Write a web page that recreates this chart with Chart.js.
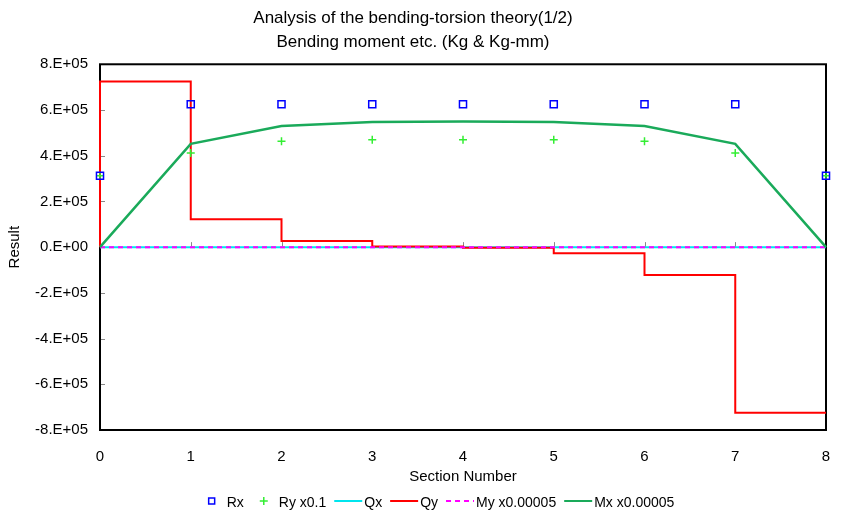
<!DOCTYPE html>
<html>
<head>
<meta charset="utf-8">
<script src="https://cdn.jsdelivr.net/npm/chart.js@4/dist/chart.umd.min.js"></script>
<style>
  html, body { margin: 0; padding: 0; background: #fff; }
</style>
</head>
<body>
<canvas id="bending" width="841" height="519"></canvas>
<script>
// section positions along the beam
let sections = [0, 1, 2, 3, 4, 5, 6, 7, 8];
// reactions
let rx = [312000, 625000, 625000, 625000, 625000, 625000, 625000, 625000, 312000];
let ryScaled = [312000, 412000, 463000, 470000, 470000, 470000, 463000, 412000, 312000];
// shear forces
let qx = [0, 0, 0, 0, 0, 0, 0, 0, 0];
let qySections = [0, 0, 1, 2, 3, 4, 5, 6, 7, 8];
let qy = [0, 725000, 122000, 27000, 3000, -3000, -27000, -122000, -725000, -725000];
// bending moments (scaled)
let myScaled = [0, 0, 0, 0, 0, 0, 0, 0, 0];
let mxScaled = [0, 452000, 530000, 547000, 550000, 547000, 530000, 452000, 0];

let yTicks = [-800000, -600000, -400000, -200000, 0, 200000, 400000, 600000, 800000];

const pts = (xs, ys) => xs.map((x, i) => ({x: x, y: ys[i]}));

const FONT = "'Liberation Sans', Arial, sans-serif";

function sciLabel(v) {
  if (v === 0) return "0.E+00";
  let m = Math.round(Math.abs(v) / 100000);
  return (v < 0 ? "-" : "") + m + ".E+05";
}

// plot frame plus the short inward tick marks
const frame = {
  id: "frame",
  beforeDatasetsDraw(chart) {
    const {ctx, chartArea: a, scales} = chart;
    ctx.save();
    ctx.strokeStyle = "#888";
    ctx.lineWidth = 1;
    yTicks.forEach(v => {
      const y = Math.round(scales.y.getPixelForValue(v)) + 0.5;
      ctx.beginPath(); ctx.moveTo(a.left, y); ctx.lineTo(a.left + 5, y); ctx.stroke();
    });
    const y0 = scales.y.getPixelForValue(0);
    sections.slice(1, -1).forEach(s => {
      const x = Math.round(scales.x.getPixelForValue(s)) + 0.5;
      ctx.beginPath(); ctx.moveTo(x, y0 - 5); ctx.lineTo(x, y0); ctx.stroke();
    });
    ctx.strokeStyle = "#000";
    ctx.lineWidth = 2;
    ctx.strokeRect(a.left, a.top, a.right - a.left, a.bottom - a.top);
    ctx.restore();
  }
};

// legend row under the axis
const bottomLegend = {
  id: "bottomLegend",
  afterDraw(chart) {
    const {ctx} = chart;
    const y = 503;
    ctx.save();
    ctx.font = "14px " + FONT;
    ctx.textBaseline = "middle";
    const items = chart.data.datasets.map(ds => {
      const isPoint = ds.showLine === false;
      const tw = ctx.measureText(ds.label).width;
      return {ds, isPoint, tw, w: (isPoint ? 27 : 30) + tw};
    });
    const gap = 8;
    const total = items.reduce((s, it) => s + it.w, 0) + gap * (items.length - 1);
    let x = 437 - total / 2;
    items.forEach(it => {
      const ds = it.ds;
      if (it.isPoint) {
        const cx = x + 12, cy = y - 2;
        ctx.strokeStyle = ds.borderColor;
        ctx.lineWidth = 1.5;
        ctx.beginPath();
        if (ds.pointStyle === "rect") {
          ctx.rect(cx - 3, cy - 3, 6, 6);
        } else {
          ctx.moveTo(cx - 4, cy); ctx.lineTo(cx + 4, cy);
          ctx.moveTo(cx, cy - 4); ctx.lineTo(cx, cy + 4);
        }
        ctx.stroke();
        ctx.fillStyle = "#000";
        ctx.fillText(ds.label, x + 27, y);
      } else {
        ctx.strokeStyle = ds.borderColor;
        ctx.lineWidth = 2;
        ctx.setLineDash(ds.borderDash || []);
        ctx.beginPath(); ctx.moveTo(x, y - 2); ctx.lineTo(x + 28, y - 2); ctx.stroke();
        ctx.setLineDash([]);
        ctx.fillStyle = "#000";
        ctx.fillText(ds.label, x + 30, y);
      }
      x += it.w + gap;
    });
    ctx.restore();
  }
};

new Chart("bending", {
  type: "scatter",
  data: {
    datasets: [
      {
        label: "Rx",
        data: pts(sections, rx),
        showLine: false,
        clip: false,
        pointStyle: "rect",
        pointRadius: 5,
        pointBorderWidth: 1.5,
        borderColor: "#0000ff",
        backgroundColor: "rgba(0,0,0,0)",
        order: 0,
      },
      {
        label: "Ry x0.1",
        data: pts(sections, ryScaled),
        showLine: false,
        clip: false,
        pointStyle: "cross",
        pointRadius: 4,
        pointBorderWidth: 1.5,
        borderColor: "#33ee33",
        backgroundColor: "#33ee33",
        order: 1,
      },
      {
        label: "Qx",
        data: pts(sections, qx),
        showLine: true,
        clip: false,
        pointRadius: 0,
        borderWidth: 2,
        borderColor: "#00e5ee",
        order: 5,
      },
      {
        label: "Qy",
        data: pts(qySections, qy),
        showLine: true,
        clip: false,
        stepped: "before",
        pointRadius: 0,
        borderWidth: 2,
        borderColor: "#ff0000",
        order: 4,
      },
      {
        label: "My x0.00005",
        data: pts(sections, myScaled),
        showLine: true,
        clip: false,
        pointRadius: 0,
        borderWidth: 2,
        borderDash: [5, 4],
        borderColor: "#ff00ff",
        order: 3,
      },
      {
        label: "Mx x0.00005",
        data: pts(sections, mxScaled),
        showLine: true,
        clip: false,
        pointRadius: 0,
        borderWidth: 2.5,
        borderColor: "#1aaa5a",
        order: 2,
      },
    ],
  },
  options: {
    responsive: false,
    animation: false,
    layout: { padding: { left: 0, right: 15, top: 0, bottom: 29 } },
    plugins: {
      legend: { display: false },
      tooltip: { enabled: false },
      title: {
        display: true,
        text: ["Analysis of the bending-torsion theory(1/2)", "Bending moment etc. (Kg & Kg-mm)"],
        color: "#000",
        font: { family: FONT, size: 17, weight: "normal", lineHeight: 1.42 },
        padding: { top: 6, bottom: 10 },
      },
    },
    scales: {
      x: {
        type: "linear",
        min: 0,
        max: 8,
        // tick marks hidden; their length only pushes the labels down
        grid: { display: false, drawTicks: true, tickLength: 15 },
        border: { display: false },
        ticks: { stepSize: 1, padding: 3, color: "#000", font: { family: FONT, size: 15 }, maxRotation: 0 },
        title: { display: true, text: "Section Number", color: "#000", font: { family: FONT, size: 15 }, padding: 4 },
        afterFit(scale) { scale.height = 60; },
      },
      y: {
        min: -800000,
        max: 800000,
        grid: { display: false, drawTicks: false },
        border: { display: false },
        afterBuildTicks(scale) { scale.ticks = yTicks.map(v => ({value: v})); },
        ticks: { padding: 12, color: "#000", font: { family: FONT, size: 15 }, callback: v => sciLabel(v) },
        title: { display: true, text: "Result", color: "#000", font: { family: FONT, size: 15 }, padding: 6 },
        afterFit(scale) { scale.width = 100; },
      },
    },
  },
  plugins: [frame, bottomLegend],
});
</script>
</body>
</html>
